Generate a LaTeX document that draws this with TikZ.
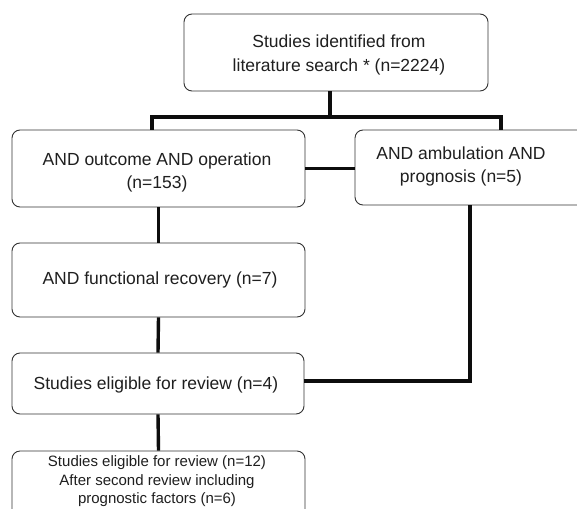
\documentclass[tikz,border=0pt]{standalone}
\usepackage{fontspec}
\setmainfont{Liberation Sans}
\begin{document}
\begin{tikzpicture}[x=1pt,y=-1pt,
  box/.style={draw=black!80, line width=0.9pt, rounded corners=8pt, inner sep=0pt},
  conn/.style={line width=3.4pt, draw=black!95},
  txt/.style={align=center, inner sep=0pt, text=black!88, font=\fontsize{17.5}{23.5}\selectfont},
  smalltxt/.style={align=center, inner sep=0pt, text=black!88, font=\fontsize{15}{18.5}\selectfont}]
\useasboundingbox (0,0) rectangle (577,508);
\clip (0,0) rectangle (577,508);
\fill[white] (0,0) rectangle (577,508);
% boxes
\node[box, minimum width=304pt, minimum height=77pt] (top) at (336,52.5) {};
\node[box, minimum width=293pt, minimum height=77pt] (b2) at (158.5,168.5) {};
\node[box, minimum width=260pt, minimum height=75pt] (b2r) at (485,167.5) {};
\node[box, minimum width=293pt, minimum height=74pt] (b3) at (158.5,280) {};
\node[box, minimum width=292pt, minimum height=61pt] (b4) at (158,383.5) {};
\node[box, minimum width=293pt, minimum height=80pt] (b5) at (158.5,491) {};
% texts
\node[txt] (ttop) at (339,55) {Studies identified from\\literature search * (n=2224)};
\node[txt] (tb2) at (157,172.5) {AND outcome AND operation\\(n=153)};
\node[txt] (tb2r) at (461,166.5) {AND ambulation AND\\prognosis (n=5)};
\node[txt] (tb3) at (160,280) {AND functional recovery (n=7)};
\node[txt] (tb4) at (156,385) {Studies eligible for review (n=4)};
\node[smalltxt] (tb5) at (157,481.5) {Studies eligible for review (n=12)\\After second review including\\prognostic factors (n=6)};
% connectors
\coordinate (j) at (330,117);
\coordinate (jl) at (152,117);
\coordinate (jr) at (501,117);
\coordinate (rc) at (470,381);
\draw[conn] (top.south -| j) -- (j);
\draw[conn] (jl |- b2.north) -- (jl) -- (jr) -- (jr |- b2r.north);
\draw[conn] (b2.east) -- (b2.east -| b2r.west);
\draw[conn] (b2.south) -- (b3.north);
\draw[conn] (b3.south) -- (b4.north);
\draw[conn] (b4.south) -- (b5.north);
\draw[conn] (b2r.south -| rc) -- (rc) -- (rc -| b4.east);
\end{tikzpicture}
\end{document}
